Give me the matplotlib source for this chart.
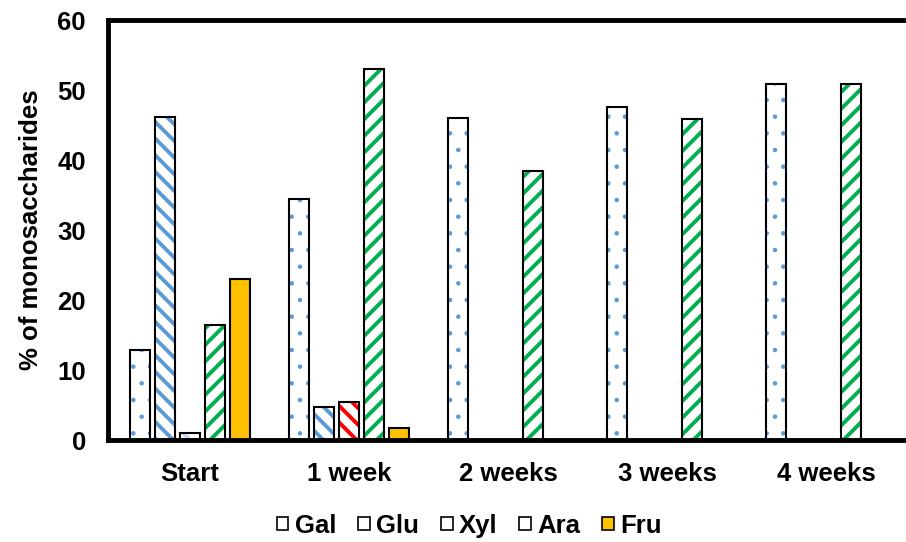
import matplotlib
matplotlib.use("Agg")
import matplotlib.pyplot as plt
from matplotlib.patches import Patch
import numpy as np

plt.rcParams['font.family'] = ['Liberation Sans', 'DejaVu Sans']
plt.rcParams['font.weight'] = 'bold'

categories = ["Start", "1 week", "2 weeks", "3 weeks", "4 weeks"]
series = ["Gal", "Glu", "Xyl", "Ara", "Fru"]
gal = [12.8, 34.4, 46.0, 47.6, 50.9]
glu = [46.2, 4.8, 0, 0, 0]
xyl = [1.0, 5.5, 0, 0, 0]
ara = [16.5, 53.0, 38.5, 45.8, 50.9]
fru = [23.0, 1.8, 0, 0, 0]
values = [gal, glu, xyl, ara, fru]

# per-series look: (fill, hatch, hatch colour, hatch line width)
styles = {
    "Gal": ("white", ".", "#5B9BD5", 0.8),
    "Glu": ("white", "\\\\", "#5B9BD5", 2.8),
    "Xyl": ("white", "\\\\", "#BDD7EE", 2.8),
    "Ara": ("white", "//", "#00B050", 2.8),
    "Fru": ("#FFC000", "", "#FFC000", 1.0),
}
# the 1-week Xyl bar is highlighted in red
overrides = {("Xyl", 1): ("white", "\\\\", "#FF0000", 2.8)}

fig = plt.figure(figsize=(9.06, 5.42), dpi=100)
ax = fig.add_axes([0.1192, 0.188, 0.898, 0.775])

x = np.arange(len(categories))
step = 0.157
width = 0.125
for i, (name, vals) in enumerate(zip(series, values)):
    off = (i - 2) * step
    for j, v in enumerate(vals):
        if v <= 0:
            continue
        fill, hatch, hc, hlw = overrides.get((name, j), styles[name])
        with plt.rc_context({'hatch.linewidth': hlw}):
            bars = ax.bar(x[j] + off, v, width, color=fill, edgecolor=hc,
                          hatch=hatch, linewidth=0, zorder=2)
        for b in bars:
            if hasattr(b, "set_hatch_linewidth"):
                b.set_hatch_linewidth(hlw)
        ax.bar(x[j] + off, v, width, color="none", edgecolor="black",
               linewidth=1.5, zorder=3)

ax.set_xlim(-0.516, 4.6)
ax.set_ylim(0, 60)
ax.set_yticks(range(0, 61, 10))
ax.set_xticks(x)
ax.set_xticklabels(categories)
ax.tick_params(axis='both', length=0, labelsize=18.5)
ax.tick_params(axis='x', pad=16)
ax.tick_params(axis='y', pad=16)
for s in ("left", "top", "bottom"):
    ax.spines[s].set_linewidth(3.5)
ax.spines["right"].set_visible(False)
ax.set_ylabel("% of monosaccharides", fontsize=18.5, fontweight='bold', labelpad=10)

handles = []
for name in series:
    fill = styles[name][0]
    handles.append(Patch(facecolor=fill, edgecolor="black", linewidth=1.2,
                         label=name))
fig.legend(handles=handles, loc="center", ncol=5, frameon=False,
           bbox_to_anchor=(0.518, 0.03), fontsize=18.5, handlelength=0.45,
           handleheight=0.45, handletextpad=0.25, columnspacing=0.85)

fig.savefig("out.png", dpi=100)
